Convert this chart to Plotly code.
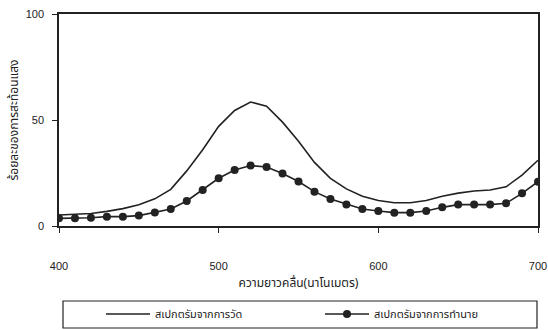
import plotly.graph_objects as go

# Wavelength (nm) sampled every 10 nm
wavelength = list(range(400, 701, 10))

# Measured reflectance spectrum (%)
measured = [5.2, 5.4, 5.9, 6.9, 8.2, 10.0, 12.8, 17.3, 26.0, 36.0, 47.0,
            54.5, 58.5, 56.5, 49.0, 40.0, 30.0, 22.5, 17.5, 14.0, 12.0,
            11.0, 11.0, 12.0, 14.0, 15.5, 16.5, 17.0, 18.5, 24.0, 31.0]

# Predicted reflectance spectrum (%)
predicted = [3.6, 3.6, 3.9, 4.4, 4.4, 4.9, 6.4, 8.0, 11.8, 17.0, 22.5,
             26.4, 28.5, 27.8, 24.8, 21.0, 16.2, 12.7, 10.2, 8.0, 7.1,
             6.3, 6.3, 7.1, 8.8, 10.1, 10.1, 10.1, 10.7, 15.4, 20.9]

x_ticks = [400, 500, 600, 700]
y_ticks = [0, 50, 100]

name_measured = "สเปกตรัมจากการวัด"
name_predicted = "สเปกตรัมจากการทำนาย"
x_title = "ความยาวคลื่น(นาโนเมตร)"
y_title = "ร้อยละของการสะท้อนแสง"

ink = "#222222"
thai_font = "Noto Sans Thai, Tahoma, Noto Sans, sans-serif"
num_font = "Liberation Sans, Arial, sans-serif"

fig = go.Figure()
fig.add_trace(go.Scatter(
    x=wavelength, y=measured, mode="lines", name=name_measured,
    line=dict(color=ink, width=1.6),
))
fig.add_trace(go.Scatter(
    x=wavelength, y=predicted, mode="lines+markers", name=name_predicted,
    line=dict(color=ink, width=1.6),
    marker=dict(color=ink, size=8, symbol="circle"),
))

W, H = 548, 330
L, R, T, B = 59, 10, 14, 104
pw, ph = W - L - R, H - T - B


def px_x(p):
    return (p - L) / pw


def px_y(p):
    return (T + ph - p) / ph


# Legend frame
fig.add_shape(type="rect", xref="paper", yref="paper",
              x0=px_x(63), x1=px_x(537), y0=px_y(328), y1=px_y(301),
              line=dict(color=ink, width=1.2), fillcolor="rgba(0,0,0,0)")

fig.update_layout(
    width=W, height=H,
    margin=dict(l=L, r=R, t=T, b=B, pad=0, autoexpand=False),
    paper_bgcolor="white", plot_bgcolor="white",
    showlegend=True,
    legend=dict(
        orientation="h", xref="paper", yref="paper",
        x=px_x(101), xanchor="left",
        y=px_y(314), yanchor="middle",
        font=dict(family=thai_font, size=11, color=ink),
        bgcolor="rgba(0,0,0,0)", borderwidth=0,
        entrywidth=160, entrywidthmode="pixels",
        itemwidth=44,
    ),
    xaxis=dict(
        range=[400, 700], tickvals=x_ticks,
        ticks="outside", ticklen=5, tickcolor=ink, tickwidth=1.2,
        ticklabelstandoff=24,
        tickfont=dict(family=num_font, size=11, color=ink),
        showline=True, linecolor=ink, linewidth=1.5, mirror=True,
        showgrid=False, zeroline=False,
        title=dict(text=x_title, standoff=8,
                   font=dict(family=thai_font, size=12, color=ink)),
    ),
    yaxis=dict(
        range=[0, 100], tickvals=y_ticks,
        ticks="outside", ticklen=5, tickcolor=ink, tickwidth=1.2,
        ticklabelstandoff=6,
        tickfont=dict(family=num_font, size=11, color=ink),
        showline=True, linecolor=ink, linewidth=1.5, mirror=True,
        showgrid=False, zeroline=False,
        title=dict(text=y_title, standoff=4,
                   font=dict(family=thai_font, size=12, color=ink)),
    ),
)

fig.write_html("out.html")
